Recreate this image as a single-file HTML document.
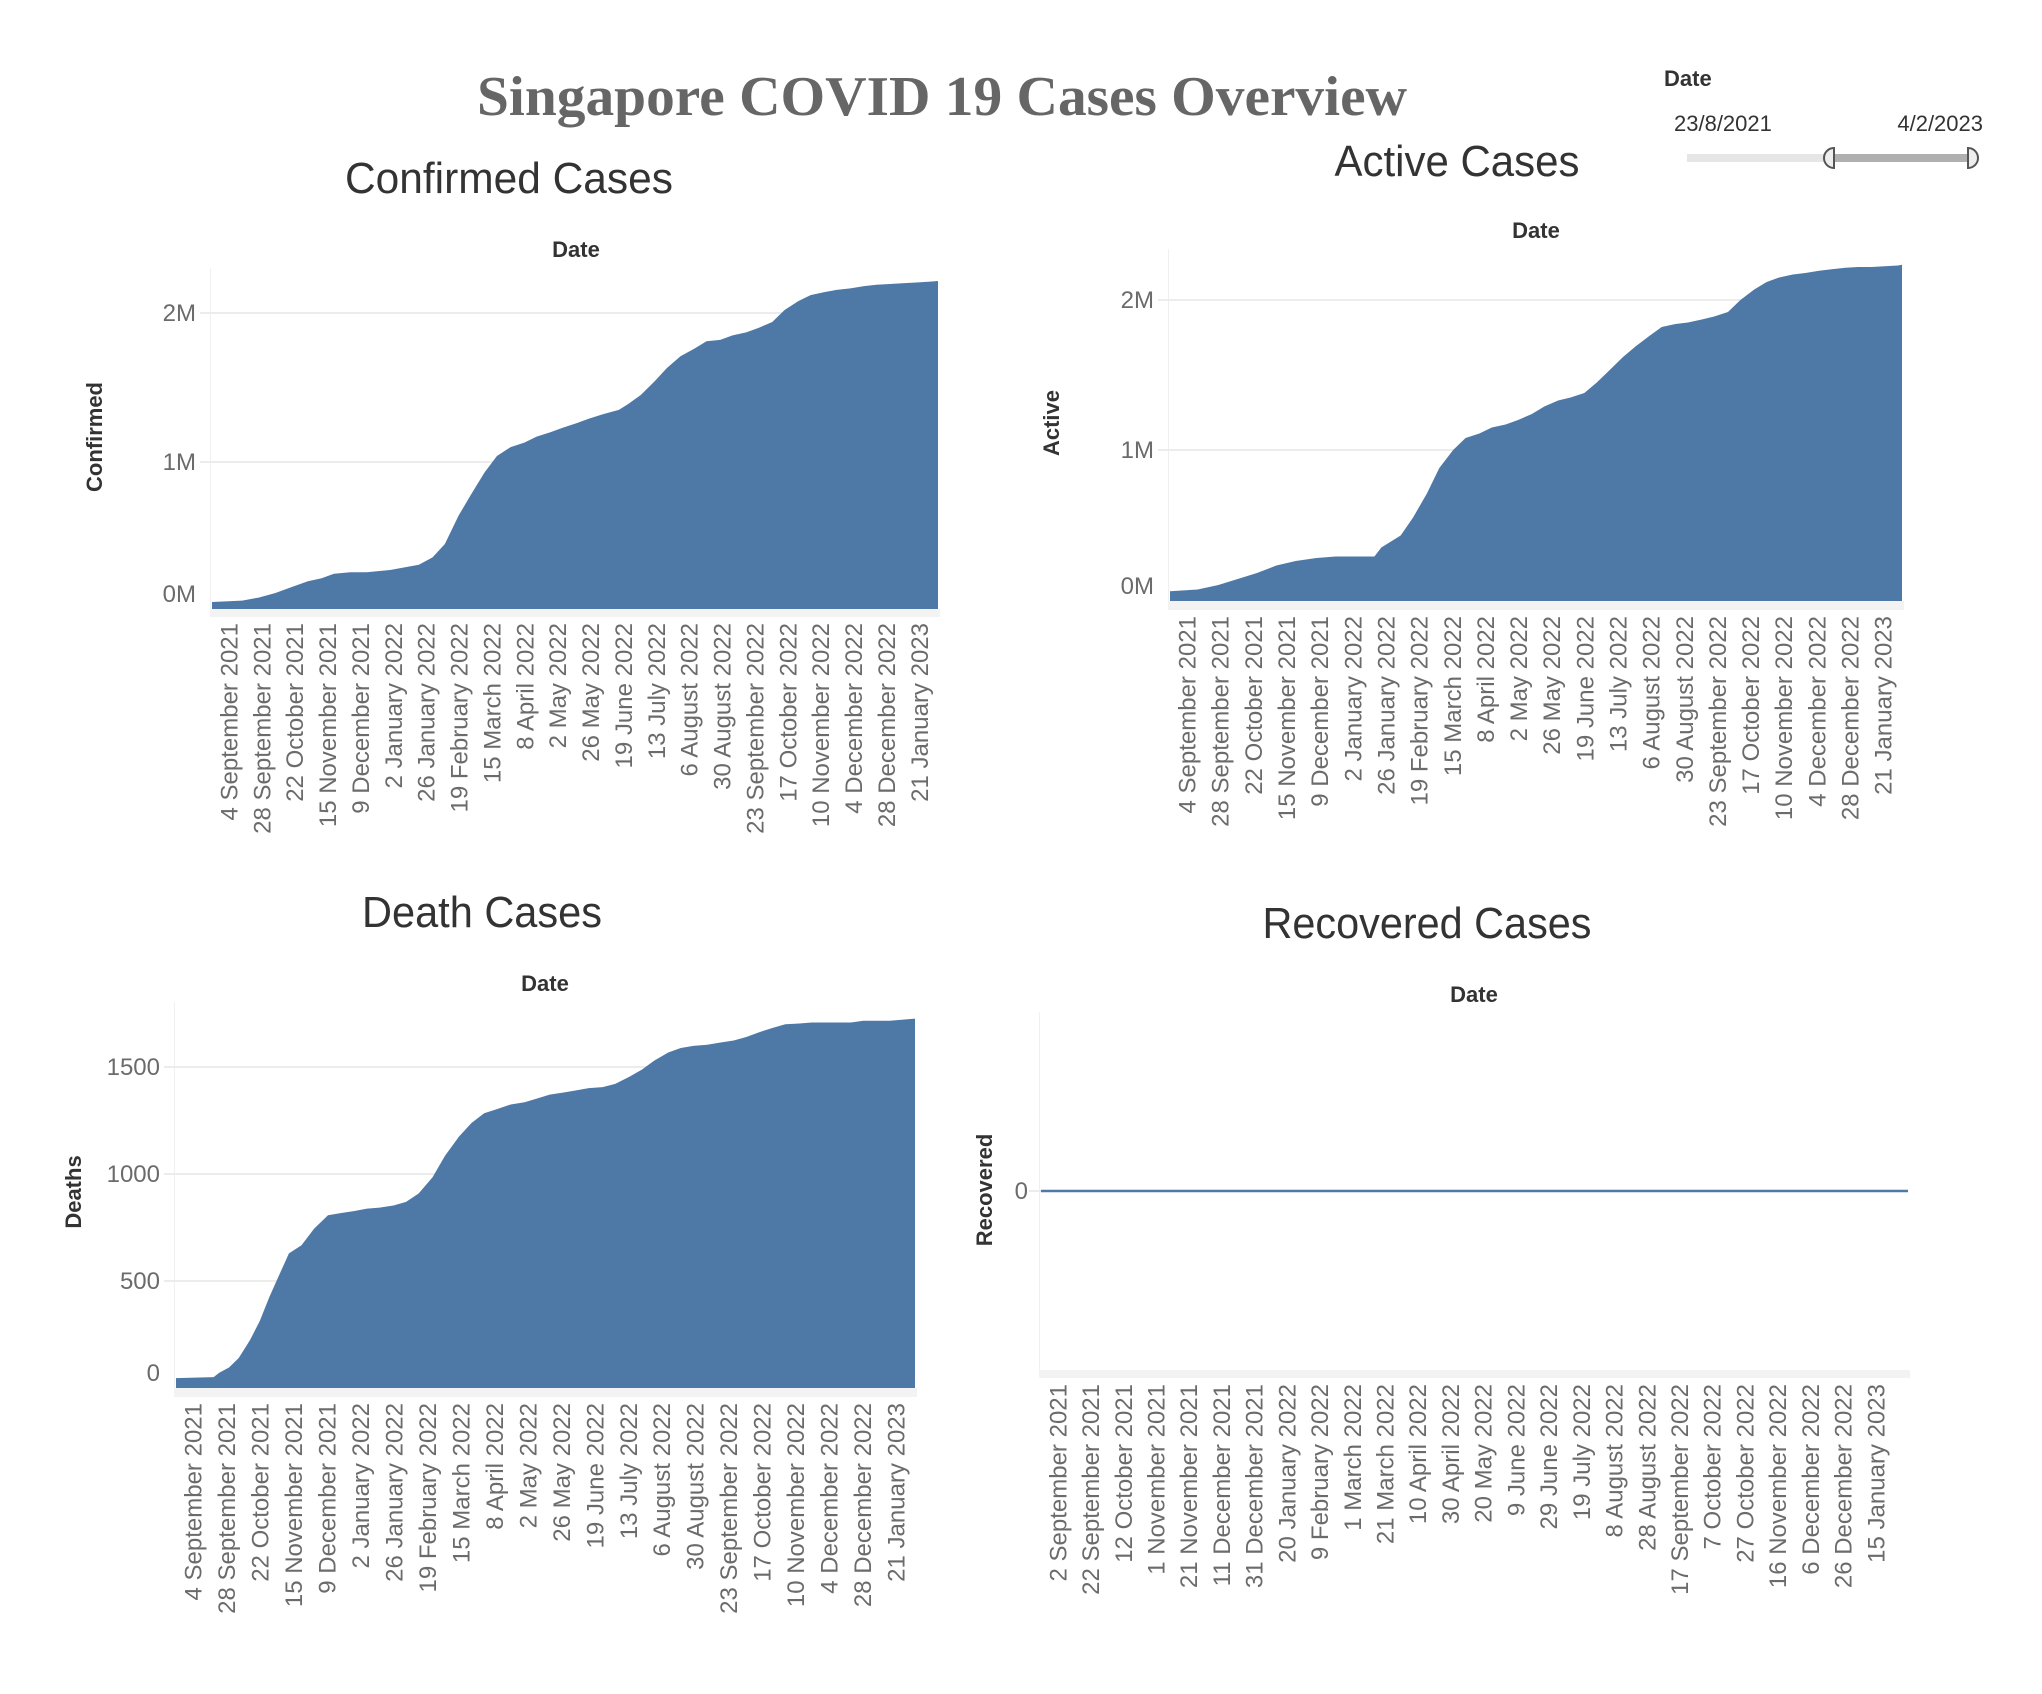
<!DOCTYPE html>
<html><head><meta charset="utf-8">
<style>
html,body{margin:0;padding:0;background:#fff;}
svg{display:block;font-family:"Liberation Sans",sans-serif;}
.tick{fill:#6b6b6b;font-size:24px;}
.ytick{fill:#6b6b6b;font-size:24px;}
.axt{fill:#333;font-size:22px;}
.ttl{fill:#333;font-size:44px;}
</style></head>
<body>
<svg id="root" width="2042" height="1694" viewBox="0 0 2042 1694">
  <text x="942" y="115" text-anchor="middle" textLength="930" lengthAdjust="spacingAndGlyphs" font-family="Liberation Serif, serif" font-weight="bold" font-size="56" fill="#666">Singapore COVID 19 Cases Overview</text>
  <g>
    <text x="1664" y="86" font-size="22" font-weight="bold" fill="#333">Date</text>
    <text x="1674" y="131" font-size="22" fill="#333">23/8/2021</text>
    <text x="1983" y="131" font-size="22" fill="#333" text-anchor="end">4/2/2023</text>
    <rect x="1687" y="154" width="140" height="8" fill="#e6e6e6"/>
    <rect x="1827" y="154" width="148" height="8" fill="#b0b0b0"/>
    <path d="M1834 148 A10 10 0 0 0 1834 168 Z" fill="#eee" stroke="#555" stroke-width="2"/>
    <path d="M1968 148 A10 10 0 0 1 1968 168 Z" fill="#eee" stroke="#555" stroke-width="2"/>
  </g>
</svg>
<script>
// ---- data ----
const startDate = "23 August 2021";
const confirmedDays = [0,22,34,46,58,70,80,89,101,113,130,151,161,170,180,189,199,208,218,228,237,247,256,266,275,285,297,304,313,323,332,342,352,361,371,380,390,399,409,418,428,437,447,456,466,476,485,495,504,514,523,530];
const confirmedVals = [0.06,0.07,0.09,0.12,0.16,0.20,0.22,0.25,0.26,0.26,0.275,0.31,0.36,0.45,0.64,0.78,0.93,1.04,1.10,1.13,1.17,1.20,1.23,1.26,1.29,1.32,1.35,1.39,1.45,1.54,1.63,1.71,1.76,1.81,1.82,1.85,1.87,1.90,1.94,2.02,2.08,2.12,2.14,2.155,2.165,2.18,2.19,2.195,2.20,2.205,2.21,2.215];
const activeDays = [0,20,35,49,63,77,91,106,120,148,153,167,176,186,195,205,214,224,233,243,252,262,271,281,290,300,309,318,328,337,347,356,366,375,385,394,404,413,423,432,441,451,460,470,479,489,498,508,527,530];
const activeVals = [0.058,0.07,0.10,0.14,0.18,0.23,0.26,0.28,0.29,0.29,0.35,0.43,0.55,0.71,0.88,1.00,1.08,1.11,1.15,1.17,1.20,1.24,1.29,1.33,1.35,1.38,1.45,1.53,1.62,1.69,1.76,1.82,1.84,1.85,1.87,1.89,1.92,2.00,2.07,2.12,2.15,2.17,2.18,2.195,2.205,2.215,2.22,2.22,2.23,2.235];
const deathDays = [0,27,31,38,45,53,60,67,74,81,90,99,109,118,128,137,146,156,165,174,184,193,203,212,221,231,240,250,259,268,278,287,296,306,315,325,334,343,353,362,371,381,390,400,409,418,428,437,447,456,484,493,512,530];
const deathVals = [46,51,71,96,140,223,312,426,528,629,667,744,807,817,827,838,843,853,870,909,985,1086,1175,1239,1284,1305,1325,1335,1353,1371,1381,1391,1401,1406,1421,1454,1487,1530,1568,1589,1599,1604,1614,1624,1640,1662,1683,1700,1703,1708,1708,1716,1716,1726];
const recoveredDays = [0,100,200,300,400,530];
const recoveredVals = [0,0,0,0,0,0];
const ticks24 = ["4 September 2021","28 September 2021","22 October 2021","15 November 2021","9 December 2021","2 January 2022","26 January 2022","19 February 2022","15 March 2022","8 April 2022","2 May 2022","26 May 2022","19 June 2022","13 July 2022","6 August 2022","30 August 2022","23 September 2022","17 October 2022","10 November 2022","4 December 2022","28 December 2022","21 January 2023"];
const ticks20 = ["2 September 2021","22 September 2021","12 October 2021","1 November 2021","21 November 2021","11 December 2021","31 December 2021","20 January 2022","9 February 2022","1 March 2022","21 March 2022","10 April 2022","30 April 2022","20 May 2022","9 June 2022","29 June 2022","19 July 2022","8 August 2022","28 August 2022","17 September 2022","7 October 2022","27 October 2022","16 November 2022","6 December 2022","26 December 2022","15 January 2023"];
const confirmedYTicks = [0,1,2];
const confirmedYLabels = ["0M","1M","2M"];
const deathYTicks = [0,500,1000,1500];
const deathYLabels = ["0","500","1000","1500"];
const recoveredYTicks = [0];
const recoveredYLabels = ["0"];

const NS = "http://www.w3.org/2000/svg";
const root = document.getElementById('root');
function mk(tag, attrs, parent){
  const e = document.createElementNS(NS, tag);
  for (const k in attrs) e.setAttribute(k, attrs[k]);
  (parent||root).appendChild(e);
  return e;
}
function dayOf(s){ return Math.round((new Date(s) - new Date(startDate))/86400000); }

function chart(c){
  const g = mk('g', {});
  
  
  const x = d => c.x0 + d * (c.x1 - c.x0) / 530;
  const y = v => c.base - (v - 0) * c.pxPer;
  const t = mk('text', {x:c.tx, y:c.ty, 'text-anchor':'middle', 'class':'ttl', textLength:c.tw, lengthAdjust:'spacingAndGlyphs'}, g);
  t.textContent = c.title;
  
  
  const dt = mk('text', {x:c.dx, y:c.dy, 'text-anchor':'middle', 'class':'axt', 'font-weight':'bold'}, g);
  dt.textContent = 'Date';
  
  
  const lb = mk('rect', {x:c.x0-2, y:c.top, width:1, height:c.bottom-c.top, fill:'#f0f0f0'}, g);
  
  
  const band = mk('rect', {x:c.x0-2, y:c.bottom, width:c.x1-c.x0+4, height:c.band, fill:'#f3f3f3'}, g);
  
  
  c.yt.forEach((v,i)=>{
    if (v !== 0 || c.gridZero){
      const gl = mk('line', {x1:c.x0-12, x2:c.x1, y1:y(v), y2:y(v), stroke:'#ececec', 'stroke-width':2}, g);
      
      
    }
    const yy = (v === 0 && c.zeroShift) ? y(v) - c.zeroShift : y(v);
    const lt = mk('text', {x:c.ylx, y:yy+8, 'text-anchor':'end', 'class':'ytick'}, g);
    lt.textContent = c.yl[i];
    
    
  });
  const yt = mk('text', {x:0, y:0, 'text-anchor':'middle', 'class':'axt', 'font-weight':'600', transform:`translate(${c.ytx},${c.yty}) rotate(-90)`}, g);
  yt.textContent = c.ytitle;
  
  
  c.ticks.forEach(s=>{
    const xx = x(dayOf(s));
    const tl = mk('text', {x:0, y:0, 'text-anchor':'end', 'class':'tick', transform:`translate(${xx+9},${c.bottom+c.band+6}) rotate(-90)`}, g);
    tl.textContent = s;
    
    
  });
  if (c.line){
    let d = '';
    c.days.forEach((dd,i)=>{ d += (i?'L':'M') + x(dd) + ' ' + y(c.vals[i]) + ' '; });
    const p = mk('path', {d:d, fill:'none', stroke:'#4e79a7', 'stroke-width':2.5}, g);
    
    
  } else {
    let d = 'M' + x(c.days[0]) + ' ' + c.bottom + ' ';
    c.days.forEach((dd,i)=>{ d += 'L' + x(dd) + ' ' + y(c.vals[i]) + ' '; });
    d += 'L' + x(530) + ' ' + y(c.vals[c.vals.length-1]) + ' L' + x(530) + ' ' + c.bottom + ' Z';
    const p = mk('path', {d:d, fill:'#4e79a7'}, g);
    
    
  }
}

chart({name:'confirmed', title:'Confirmed Cases', tx:509, ty:193, tw:328, dx:576, dy:257,
  x0:212, x1:938, top:268, bottom:609, band:8, base:611, pxPer:149, zeroShift:17,
  yt:confirmedYTicks, yl:confirmedYLabels, ylx:196, ytitle:'Confirmed', ytx:102, yty:437,
  ticks:ticks24, days:confirmedDays, vals:confirmedVals});
chart({name:'active', title:'Active Cases', tx:1457, ty:176, tw:245, dx:1536, dy:238,
  x0:1170, x1:1902, top:249, bottom:601, band:9, base:600, pxPer:150, zeroShift:14,
  yt:confirmedYTicks, yl:confirmedYLabels, ylx:1154, ytitle:'Active', ytx:1059, yty:423,
  ticks:ticks24, days:activeDays, vals:activeVals});
chart({name:'death', title:'Death Cases', tx:482, ty:927, tw:240, dx:545, dy:991,
  x0:176, x1:915, top:1002, bottom:1388, band:9, base:1388, pxPer:107/500, zeroShift:15,
  yt:deathYTicks, yl:deathYLabels, ylx:160, ytitle:'Deaths', ytx:81, yty:1192,
  ticks:ticks24, days:deathDays, vals:deathVals});
chart({name:'recovered', title:'Recovered Cases', tx:1427, ty:938, tw:329, dx:1474, dy:1002,
  x0:1041, x1:1908, top:1012, bottom:1370, band:8, base:1191, pxPer:100, zeroShift:0, gridZero:true,
  yt:recoveredYTicks, yl:recoveredYLabels, ylx:1028, ytitle:'Recovered', ytx:992, yty:1190,
  ticks:ticks20, days:recoveredDays, vals:recoveredVals, line:true});
</script>
</body></html>
